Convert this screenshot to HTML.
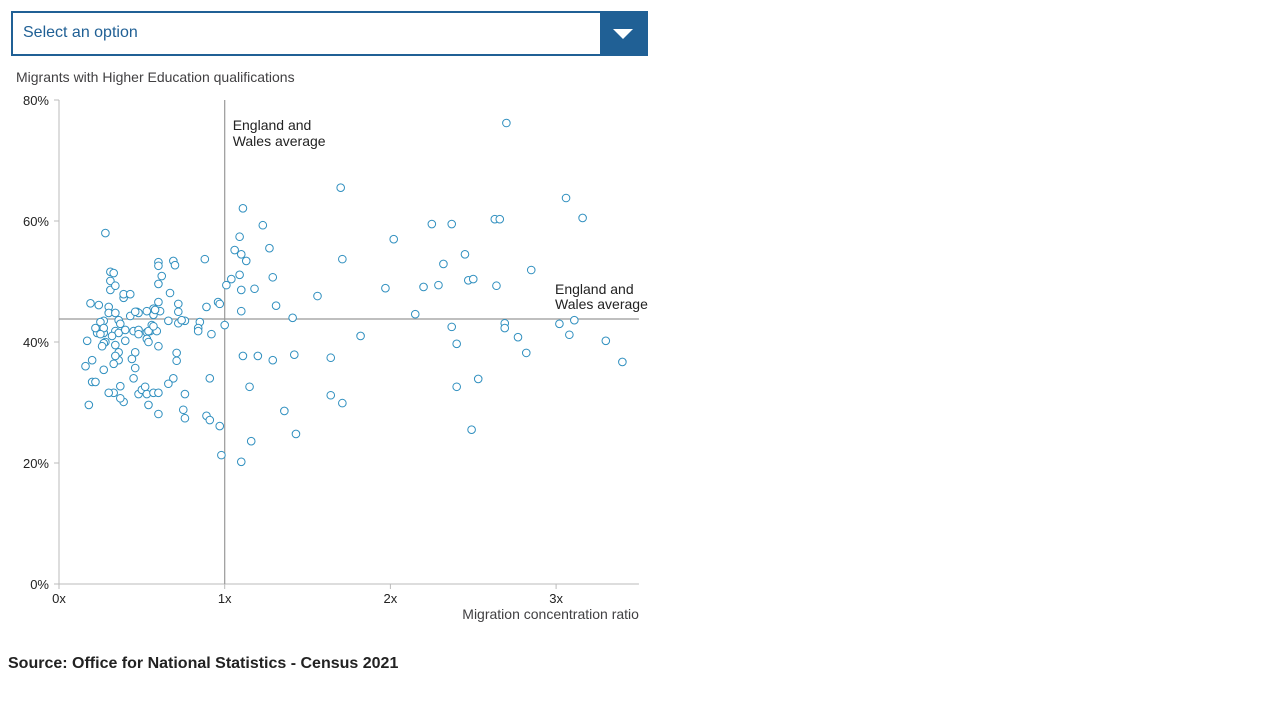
<!DOCTYPE html>
<html><head><meta charset="utf-8"><style>
body{margin:0;width:1280px;height:720px;background:#fff;font-family:"Liberation Sans",sans-serif;position:relative;overflow:hidden}
#dd{position:absolute;left:11px;top:11px;width:633px;height:41px;border:2px solid #206095;}
#dd span{position:absolute;left:10px;top:11px;font-size:16px;color:#206095}
#arrow{position:absolute;right:0;top:0;width:46px;height:41px;background:#206095}
#arrow:after{content:"";position:absolute;left:13px;top:16px;border-left:10px solid transparent;border-right:10px solid transparent;border-top:10px solid #fff}
#src{position:absolute;left:8px;top:655px;font-size:16px;font-weight:bold;color:#222}
svg{position:absolute;left:0;top:0}
</style></head><body>
<div id="dd"><span>Select an option</span><div id="arrow"></div></div>
<svg id="chart" width="1280" height="720"></svg>
<div id="src">Source: Office for National Statistics - Census 2021</div>
<script>
const xVals=[.28,.31,.33,.31,.19,.24,.31,.34,.39,.39,.43,.47,.48,.43,.23,.22,.27,.30,.30,.27,.25,.27,.34,.36,.34,.36,.40,.37,.32,.25,.17,.28,.34,.36,.36,.34,.27,.26,.40,.45,.48,.53,.56,.55,.46,.44,.48,.45,.46,.39,.37,.37,.33,.27,.20,.16,.20,.22,.18,.30,.33,.46,.48,.53,.54,.54,.59,.61,.60,.60,.60,.60,.62,.57,.57,.54,.57,.58,.53,.60,.50,.53,.52,.57,.60,.60,.67,.66,.69,.70,.72,.72,.72,.76,.74,.71,.71,.69,.66,.76,.75,.76,.88,.85,.84,.84,.89,.92,.96,.97,.91,.89,.91,.97,.98,1.00,
1.11,1.06,1.09,1.10,1.09,1.04,1.01,1.10,1.10,1.13,1.18,1.23,1.27,1.29,1.31,1.11,1.20,1.29,1.42,1.41,1.15,1.16,1.10,1.36,1.43,1.56,1.70,1.71,1.64,1.64,1.71,1.82,1.97,2.02,2.15,2.20,2.25,2.29,2.32,2.37,2.37,2.40,2.40,2.45,2.47,2.50,2.53,2.49,2.63,2.66,2.64,2.69,2.70,2.69,2.77,2.82,2.85,3.02,3.06,3.08,3.11,3.16,3.30,3.40];
const yVals=[58.0,51.6,51.4,50.1,46.4,46.1,48.6,49.3,47.3,47.9,47.9,45.0,44.8,44.3,41.5,42.3,41.5,45.8,44.8,43.5,43.3,42.3,44.8,43.6,41.8,41.5,42.0,43.0,41.0,41.3,40.2,40.0,39.5,38.3,37.0,37.7,39.8,39.3,40.2,41.8,42.0,41.6,42.8,41.8,38.3,37.2,31.4,34.0,35.7,30.1,30.7,32.7,31.6,35.4,37.0,36.0,33.4,33.4,29.6,31.6,36.4,45.0,41.3,40.5,41.8,40.0,41.8,45.1,46.6,49.6,53.2,52.6,50.9,44.5,42.6,29.6,45.5,45.3,45.1,39.3,32.1,31.4,32.6,31.6,31.6,28.1,48.1,43.5,53.4,52.7,45.0,46.3,43.1,43.5,43.6,38.2,36.9,34.0,33.1,31.4,28.8,27.4,53.7,43.3,42.3,41.8,45.8,41.3,46.6,46.3,34.0,27.8,27.1,26.1,21.3,42.8,
62.1,55.2,57.4,54.5,51.1,50.4,49.4,48.6,45.1,53.4,48.8,59.3,55.5,50.7,46.0,37.7,37.7,37.0,37.9,44.0,32.6,23.6,20.2,28.6,24.8,47.6,65.5,53.7,37.4,31.2,29.9,41.0,48.9,57.0,44.6,49.1,59.5,49.4,52.9,59.5,42.5,39.7,32.6,54.5,50.2,50.4,33.9,25.5,60.3,60.3,49.3,43.1,76.2,42.3,40.8,38.2,51.9,43.0,63.8,41.2,43.6,60.5,40.2,36.7];
const xTicks=[0,1,2,3];
const xTickLabels=["0x","1x","2x","3x"];
const yTicks=[0,20,40,60,80];
const yTickLabels=["0%","20%","40%","60%","80%"];
const avgX=1, avgY=43.8, xMax=3.5;
const X0=59,PX=165.7,Y0=584,PY=6.05;
const sx=v=>X0+v*PX, sy=v=>Y0-v*PY;
const svg=document.getElementById('chart');const NS="http://www.w3.org/2000/svg";
function mk(t,a,txt){const e=document.createElementNS(NS,t);for(const k in a)e.setAttribute(k,a[k]);if(txt!==undefined)e.textContent=txt;svg.appendChild(e);return e;}
let e;
e=mk('text',{x:16,y:82,'font-size':14,fill:'#414042'},'Migrants with Higher Education qualifications');


e=mk('line',{x1:X0,y1:sy(80),x2:X0,y2:Y0,stroke:'#bbb'});


e=mk('line',{x1:X0,y1:Y0,x2:sx(xMax),y2:Y0,stroke:'#bbb'});


yTicks.forEach((t,i)=>{
 e=mk('line',{x1:X0-5,y1:sy(t),x2:X0,y2:sy(t),stroke:'#bbb'});
 
 
 e=mk('text',{x:X0-10,y:sy(t)+5,'font-size':13,fill:'#222','text-anchor':'end'},yTickLabels[i]);
 
 
});
xTicks.forEach((t,i)=>{
 e=mk('line',{x1:sx(t),y1:Y0,x2:sx(t),y2:Y0+5,stroke:'#bbb'});
 
 
 e=mk('text',{x:sx(t),y:Y0+19,'font-size':13,fill:'#222','text-anchor':'middle'},xTickLabels[i]);
 
 
});
e=mk('text',{x:sx(xMax),y:619,'font-size':14,fill:'#414042','text-anchor':'end'},'Migration concentration ratio');


e=mk('line',{x1:sx(avgX),y1:sy(80),x2:sx(avgX),y2:Y0,stroke:'#999','stroke-width':1.2});


e=mk('line',{x1:X0,y1:sy(avgY),x2:sx(xMax),y2:sy(avgY),stroke:'#999','stroke-width':1.2});


[['England and',130],['Wales average',146]].forEach(a=>{e=mk('text',{x:sx(avgX)+8,y:a[1],'font-size':14,fill:'#222'},a[0]);
 
 });
[['England and',294],['Wales average',309]].forEach(a=>{e=mk('text',{x:555,y:a[1],'font-size':14,fill:'#222'},a[0]);
 
 });
xVals.forEach((v,i)=>{
 e=mk('circle',{cx:sx(v),cy:sy(yVals[i]),r:3.8,fill:'#fff',stroke:'#2f8fbf','stroke-width':1});
 
 
});
</script>
</body></html>
